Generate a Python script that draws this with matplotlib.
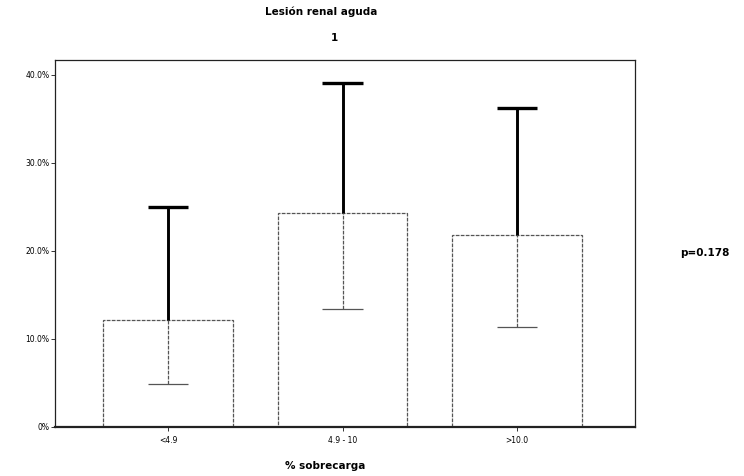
import matplotlib.pyplot as plt
import numpy as np
from matplotlib.ticker import FuncFormatter

groups = ['<4.9', '4.9 - 10', '>10.0']
pct = np.array([12.2, 24.3, 21.8]) / 100
ci_low = np.array([4.9, 13.4, 11.4]) / 100
ci_high = np.array([25.0, 39.1, 36.3]) / 100
yticks = [0, 0.1, 0.2, 0.3, 0.4]

fig = plt.figure(figsize=(7.44, 4.76), dpi=100)
ax = fig.add_axes([0.0739, 0.103, 0.7796, 0.771])

x = np.arange(len(groups))
ax.bar(x, pct, width=0.74, color='white', edgecolor='#555555',
       linewidth=0.9, linestyle=(0, (3, 1)), zorder=2)

cap = 0.115
# upper half of interval: thick solid
ax.vlines(x, pct, ci_high, color='black', lw=2.1, zorder=3)
ax.hlines(ci_high, x - cap, x + cap, color='black', lw=2.4, zorder=3)
# lower half: thin, inside bar
ax.vlines(x, ci_low, pct, color='#555555', lw=0.9, linestyle=(0, (3, 1)), zorder=3)
ax.hlines(ci_low, x - cap, x + cap, color='#555555', lw=0.9, zorder=3)

ax.set_xlim(-0.648, 2.676)
ax.set_ylim(0, 0.417)
ax.set_yticks(yticks)
ax.yaxis.set_major_formatter(FuncFormatter(lambda v, p: '0%' if v == 0 else f'{v*100:.1f}%'))
ax.set_xticks(x)
ax.set_xticklabels(groups)
ax.tick_params(axis='both', labelsize=5.5, length=3, width=0.7, color='#333333')
ax.tick_params(axis='y', pad=1)

for s in ax.spines.values():
    s.set_linewidth(0.9)
    s.set_color('#222222')
ax.spines['bottom'].set_linewidth(1.6)

fig.text(0.437, 0.020, '% sobrecarga', ha='center', va='center',
         fontsize=7.5, fontweight='bold')
fig.text(0.4315, 0.975, 'Lesión renal aguda', ha='center', va='center',
         fontsize=7.5, fontweight='bold')
fig.text(0.450, 0.920, '1', ha='center', va='center',
         fontsize=7.5, fontweight='bold')
fig.text(0.948, 0.468, 'p=0.178', ha='center', va='center',
         fontsize=7.5, fontweight='bold')

fig.savefig('out.png', dpi=100)
